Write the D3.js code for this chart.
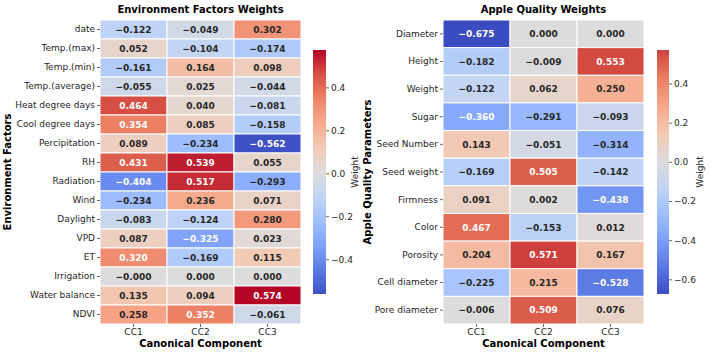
<!DOCTYPE html>
<html>
<head>
<meta charset="utf-8">
<script src="https://cdn.jsdelivr.net/npm/d3@7"></script>
<style>
  body { margin: 0; background: #fff; }
  text { font-family: "DejaVu Sans", sans-serif; }
</style>
</head>
<body>
<div id="container"></div>
<script>
let w = 711;
let h = 355;

let components = ["CC1", "CC2", "CC3"];

let envFactors = ["date", "Temp.(max)", "Temp.(min)", "Temp.(average)", "Heat degree days",
  "Cool degree days", "Percipitation", "RH", "Radiation", "Wind", "Daylight", "VPD", "ET",
  "Irrigation", "Water balance", "NDVI"];
let envWeights = [
  [-0.122, -0.049, 0.302],
  [0.052, -0.104, -0.174],
  [-0.161, 0.164, 0.098],
  [-0.055, 0.025, -0.044],
  [0.464, 0.040, -0.081],
  [0.354, 0.085, -0.158],
  [0.089, -0.234, -0.562],
  [0.431, 0.539, 0.055],
  [-0.404, 0.517, -0.293],
  [-0.234, 0.236, 0.071],
  [-0.083, -0.124, 0.280],
  [0.087, -0.325, 0.023],
  [0.320, -0.169, 0.115],
  [-0.0001, 0.000, 0.000],
  [0.135, 0.094, 0.574],
  [0.258, 0.352, -0.061]
];
let envTicks = [-0.4, -0.2, 0.0, 0.2, 0.4];

let appleParams = ["Diameter", "Height", "Weight", "Sugar", "Seed Number", "Seed weight",
  "Firmness", "Color", "Porosity", "Cell diameter", "Pore diameter"];
let appleWeights = [
  [-0.675, 0.000, 0.000],
  [-0.182, -0.009, 0.553],
  [-0.122, 0.062, 0.250],
  [-0.360, -0.291, -0.093],
  [0.143, -0.051, -0.314],
  [-0.169, 0.505, -0.142],
  [0.091, 0.002, -0.438],
  [0.467, -0.153, 0.012],
  [0.204, 0.571, 0.167],
  [-0.225, 0.215, -0.528],
  [-0.006, 0.509, 0.076]
];
let appleTicks = [-0.6, -0.4, -0.2, 0.0, 0.2, 0.4];

// matplotlib coolwarm sampled at 11 points
let coolwarmStops = ["#3b4cc0", "#5977e3", "#7b9ff9", "#9ebeff", "#c0d4f5", "#dddcdc",
  "#f2cbb7", "#f7ac8e", "#ee8468", "#d65244", "#b40426"];
let coolwarm = d3.piecewise(d3.interpolateRgb, coolwarmStops);

let viz = d3.select("#container")
  .append("svg")
  .attr("width", w)
  .attr("height", h)
  .style("background-color", "#fff");

let defs = viz.append("defs");

function luminance(c) {
  let rgb = d3.rgb(c);
  let lin = v => { v = v / 255; return v <= 0.03928 ? v / 12.92 : Math.pow((v + 0.055) / 1.055, 2.4); };
  return 0.2126 * lin(rgb.r) + 0.7152 * lin(rgb.g) + 0.0722 * lin(rgb.b);
}

function fmt(v) {
  return (v < 0 ? "\u2212" : "") + Math.abs(v).toFixed(3);
}

function drawHeatmap(cfg) {
  let rows = cfg.rows;
  let values = cfg.values;
  let flat = values.flat();
  let vmin = d3.min(flat);
  let vmax = d3.max(flat);
  // colours centred on 0, colorbar spans only the data range
  let vrange = Math.max(vmax, -vmin);
  let tOf = v => 0.5 + v / (2 * vrange);
  let color = v => coolwarm(tOf(v));

  let xScale = d3.scaleBand().domain(components).range([cfg.x0, cfg.x1]);
  let yScale = d3.scaleBand().domain(rows).range([20, 324]);

  let g = viz.append("g");

  let cells = [];
  rows.forEach((r, i) => {
    components.forEach((c, j) => cells.push({ row: r, col: c, v: values[i][j] }));
  });

  g.selectAll(".cell")
    .data(cells)
    .enter()
    .append("rect")
    .attr("x", d => xScale(d.col))
    .attr("y", d => yScale(d.row))
    .attr("width", xScale.bandwidth())
    .attr("height", yScale.bandwidth())
    .attr("fill", d => color(d.v))
    .attr("stroke", "#fff")
    .attr("stroke-width", 1);

  g.selectAll(".annot")
    .data(cells)
    .enter()
    .append("text")
    .attr("x", d => xScale(d.col) + xScale.bandwidth() / 2)
    .attr("y", d => yScale(d.row) + yScale.bandwidth() / 2)
    .attr("dy", "0.36em")
    .attr("text-anchor", "middle")
    .attr("font-size", "9px")
    .attr("font-weight", "bold")
    .attr("fill", d => luminance(color(d.v)) > 0.408 ? "#262626" : "#fff")
    .text(d => fmt(d.v));

  // axes
  let yAxis = d3.axisLeft(yScale).tickSize(3).tickPadding(2);
  let yg = g.append("g").attr("transform", "translate(" + cfg.x0 + ",0)").call(yAxis);
  let xAxis = d3.axisBottom(xScale).tickSize(3).tickPadding(2);
  let xg = g.append("g").attr("transform", "translate(0,324)").call(xAxis);
  [yg, xg].forEach(a => {
    a.select(".domain").remove();
    a.selectAll("text").attr("font-size", "9px").attr("fill", "#262626").attr("font-family", "DejaVu Sans");
    a.selectAll("line").attr("stroke", "#262626").attr("stroke-width", 0.7);
  });

  // titles
  g.append("text")
    .attr("x", (cfg.x0 + cfg.x1) / 2)
    .attr("y", 13)
    .attr("text-anchor", "middle")
    .attr("font-size", "10px")
    .attr("font-weight", "bold")
    .attr("fill", "#000")
    .text(cfg.title);

  g.append("text")
    .attr("x", (cfg.x0 + cfg.x1) / 2)
    .attr("y", 347)
    .attr("text-anchor", "middle")
    .attr("font-size", "10px")
    .attr("font-weight", "bold")
    .attr("fill", "#000")
    .text("Canonical Component");

  g.append("text")
    .attr("transform", "translate(" + cfg.ylabelX + ",172) rotate(-90)")
    .attr("text-anchor", "middle")
    .attr("font-size", "10px")
    .attr("font-weight", "bold")
    .attr("fill", "#000")
    .text(cfg.ylabel);

  // colorbar
  let cbScale = d3.scaleLinear().domain([vmin, vmax]).range([294, 50]);
  let gradId = "grad" + cfg.id;
  let grad = defs.append("linearGradient")
    .attr("id", gradId)
    .attr("x1", "0").attr("y1", "1").attr("x2", "0").attr("y2", "0");
  d3.range(0, 1.0001, 0.02).forEach(t => {
    let v = vmin + t * (vmax - vmin);
    grad.append("stop").attr("offset", t).attr("stop-color", color(v));
  });
  g.append("rect")
    .attr("x", cfg.cbX)
    .attr("y", cbScale(vmax))
    .attr("width", cfg.cbW)
    .attr("height", cbScale(vmin) - cbScale(vmax))
    .attr("fill", "url(#" + gradId + ")");

  let cbAxis = d3.axisRight(cbScale).tickValues(cfg.ticks).tickFormat(d3.format(".1f")).tickSize(3).tickPadding(2);
  let cg = g.append("g").attr("transform", "translate(" + (cfg.cbX + cfg.cbW) + ",0)").call(cbAxis);
  cg.select(".domain").remove();
  cg.selectAll("text").attr("font-size", "9px").attr("fill", "#262626").attr("font-family", "DejaVu Sans");
  cg.selectAll("line").attr("stroke", "#262626").attr("stroke-width", 0.7);

  g.append("text")
    .attr("transform", "translate(" + cfg.wLabelX + ",172) rotate(-90)")
    .attr("text-anchor", "middle")
    .attr("dy", "0.35em")
    .attr("font-size", "9px")
    .attr("fill", "#262626")
    .text("Weight");
}

drawHeatmap({
  id: "env", rows: envFactors, values: envWeights, ticks: envTicks,
  x0: 100, x1: 301, cbX: 313, cbW: 13,
  title: "Environment Factors Weights", ylabel: "Environment Factors",
  ylabelX: 10.5, wLabelX: 355
});

drawHeatmap({
  id: "apple", rows: appleParams, values: appleWeights, ticks: appleTicks,
  x0: 443, x1: 644, cbX: 657, cbW: 12,
  title: "Apple Quality Weights", ylabel: "Apple Quality Parameters",
  ylabelX: 371, wLabelX: 700
});
</script>
</body>
</html>
